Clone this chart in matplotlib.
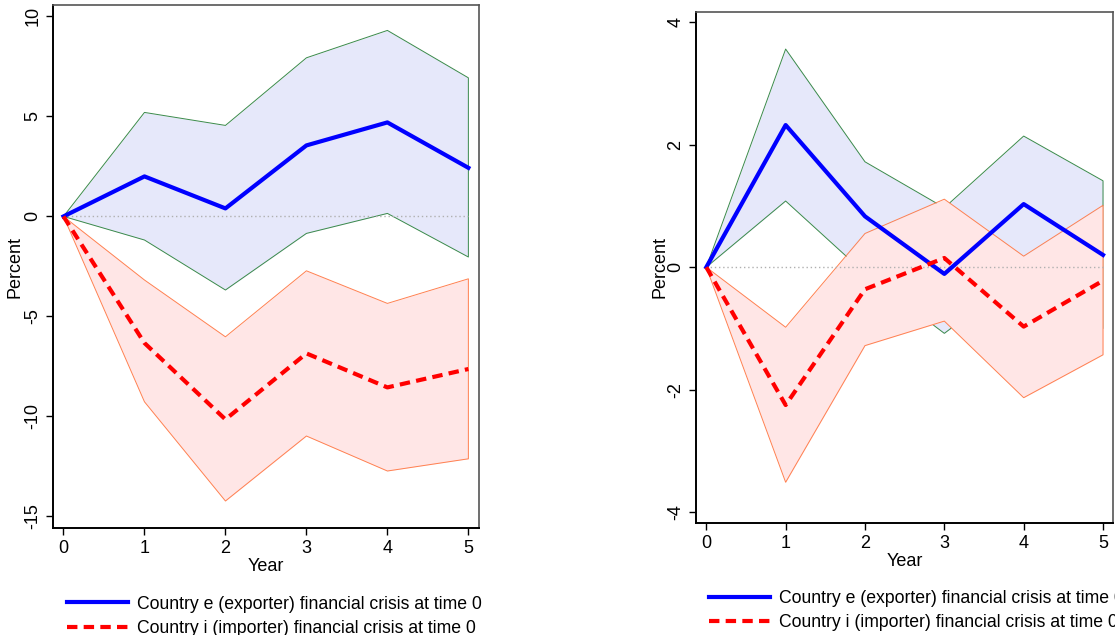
import matplotlib
matplotlib.use("Agg")
import matplotlib.pyplot as plt

plt.rcParams['font.family'] = ['Liberation Sans', 'DejaVu Sans']

years = [0, 1, 2, 3, 4, 5]
zero = [0, 0, 0, 0, 0, 0]

# left panel
l_exp = [0, 2.0, 0.4, 3.55, 4.7, 2.43]
l_exp_hi = [0, 5.2, 4.55, 7.93, 9.3, 6.93]
l_exp_lo = [0, -1.18, -3.68, -0.85, 0.15, -2.03]
l_imp = [0, -6.33, -10.15, -6.85, -8.55, -7.63]
l_imp_hi = [0, -3.18, -6.02, -2.72, -4.35, -3.12]
l_imp_lo = [0, -9.27, -14.23, -10.98, -12.73, -12.12]

# right panel
r_exp = [0, 2.32, 0.83, -0.11, 1.03, 0.2]
r_exp_hi = [0, 3.56, 1.72, 0.97, 2.14, 1.41]
r_exp_lo = [0, 1.08, -0.1, -1.08, -0.1, -1.0]
r_imp = [0, -2.25, -0.36, 0.15, -0.97, -0.22]
r_imp_hi = [0, -0.98, 0.55, 1.11, 0.18, 1.01]
r_imp_lo = [0, -3.51, -1.28, -0.88, -2.13, -1.43]

lab_e = "Country e (exporter) financial crisis at time 0"
lab_i = "Country i (importer) financial crisis at time 0"

fig = plt.figure(figsize=(11.15, 6.35), dpi=100)
ax1 = fig.add_axes([0.0475, 0.1685, 0.382, 0.8236])
ax2 = fig.add_axes([0.6242, 0.1759, 0.3743, 0.8057])


def band(ax, lo, hi, fill, edge, z):
    ax.fill_between(years, lo, hi, color=fill, lw=0, zorder=z)
    ax.plot(years + years[::-1], hi + lo[::-1], color=edge, lw=0.7, zorder=z + 0.5)


def panel(ax, e, ehi, elo, i, ihi, ilo, yticks, ylim, labx):
    band(ax, elo, ehi, '#e6e8fa', '#3a8a4a', 1)
    band(ax, ilo, ihi, '#ffe6e6', '#ff8050', 2)
    ax.plot(years, zero, color='#b0b0b0', lw=1, ls=(0, (1, 2)), zorder=3)
    le, = ax.plot(years, e, color='#0000ff', lw=3, label=lab_e, zorder=4)
    li, = ax.plot(years, i, color='#ff0000', lw=3, ls=(0, (2.5, 1.5)), label=lab_i, zorder=4)
    ax.set_xlim(-0.13, 5.13)
    ax.set_ylim(*ylim)
    ax.set_xticks(years)
    ax.set_yticks(yticks)
    ax.set_yticklabels([str(t) for t in yticks], rotation=90, va='center')
    ax.tick_params(labelsize=13, length=5, width=1)
    ax.set_xlabel("Year", fontsize=13, labelpad=1)
    ax.set_ylabel("Percent", fontsize=13)
    ax.yaxis.set_label_coords(labx, 0.5)
    for s in ['left', 'bottom']:
        ax.spines[s].set_linewidth(1.4)
        ax.spines[s].set_color('black')
    for s in ['top', 'right']:
        ax.spines[s].set_linewidth(1.2)
        ax.spines[s].set_color('#555555')
    return le, li


h1 = panel(ax1, l_exp, l_exp_hi, l_exp_lo, l_imp, l_imp_hi, l_imp_lo,
           [-15, -10, -5, 0, 5, 10], (-15.58, 10.57), -0.068)
h2 = panel(ax2, r_exp, r_exp_hi, r_exp_lo, r_imp, r_imp_hi, r_imp_lo,
           [-4, -2, 0, 2, 4], (-4.18, 4.17), -0.066)

for h, bx, by in [(h1, 0.060, 0.062), (h2, 0.636, 0.071)]:
    fig.legend(h, [lab_e, lab_i], loc='upper left', bbox_to_anchor=(bx, by),
               frameon=False, fontsize=12.7, handlelength=3.45, handletextpad=0.5,
               labelspacing=0.42, borderpad=0, borderaxespad=0)

fig.savefig("out.png", dpi=100)
